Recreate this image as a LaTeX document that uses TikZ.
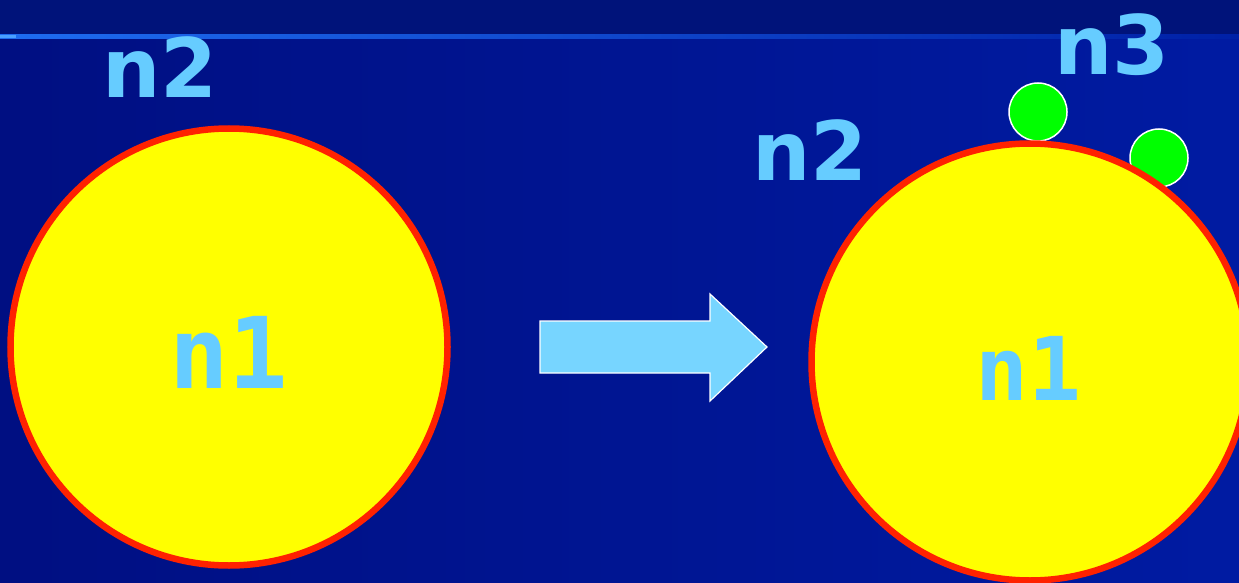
\documentclass[tikz,border=0pt]{standalone}
\usepackage{fontspec}
\usepackage{xcolor}
\usepackage{tikz}
\usetikzlibrary{positioning}
\newfontfamily\lblfont{DejaVu Sans}
\newfontfamily\codefont{DejaVu Sans Mono}
\definecolor{bgtop}{HTML}{00137A}
\definecolor{bgleft}{HTML}{000F82}
\definecolor{bgright}{HTML}{001BA2}
\definecolor{ruleblue}{HTML}{1E6CF0}
\definecolor{rulemid}{HTML}{0529B8}
\definecolor{ruleend}{HTML}{0020A6}
\definecolor{ruletip}{HTML}{4AA0FF}
\definecolor{ringred}{HTML}{FF2200}
\definecolor{core}{HTML}{FFFF00}
\definecolor{label}{HTML}{66CCFF}
\definecolor{arrowfill}{HTML}{77D5FF}
\definecolor{leaf}{HTML}{00FF00}

\begin{document}
\begin{tikzpicture}[
  x=1pt, y=-1pt,
  ring/.style={circle, draw=ringred, line width=6.5pt, fill=core, minimum size=437pt, inner sep=0pt},
  bud/.style={circle, draw=white, line width=1.5pt, fill=leaf, minimum size=58pt, inner sep=0pt},
  tag/.style={text=label, inner sep=0pt, anchor=base, font=\lblfont\bfseries\fontsize{82}{86}\selectfont},
  core label/.style={text=label, inner sep=0pt, anchor=base, font=\codefont\bfseries}
]
\useasboundingbox (0,0) rectangle (1239,583);
\clip (0,0) rectangle (1239,583);
% background
\shade[left color=bgleft, right color=bgright] (0,35) rectangle (1239,583);
\fill[bgtop] (0,0) rectangle (1239,35);
\shade[left color=ruleblue, middle color=rulemid, right color=ruleend] (0,35) rectangle (1239,38.5);
\fill[ruletip] (0,35) rectangle (16,38.5);

% before
\node[ring] (ringL) at (229,347) {};
\node[core label, font=\codefont\bfseries\fontsize{99}{100}\selectfont] (n1L) at (229,388) {n1};
\node[tag] (n2L) at (160,98) {n2};

% step
\draw[white, line width=1.2pt, fill=arrowfill]
  (540,321) -- (710,321) -- (710,294) -- (767,347) -- (710,401) -- (710,373) -- (540,373) -- cycle;

% after
\node[bud] (g1) at (1038,112) {};
\node[bud] (g2) at (1159,158) {};
\node[ring] (ringR) at (1030,362) {};
\node[core label, font=\codefont\bfseries\fontsize{88}{90}\selectfont] (n1R) at (1028,400) {n1};
\node[tag] (n2R) at (810,180) {n2};
\node[tag] (n3) at (1112,75) {n3};
\end{tikzpicture}
\end{document}
